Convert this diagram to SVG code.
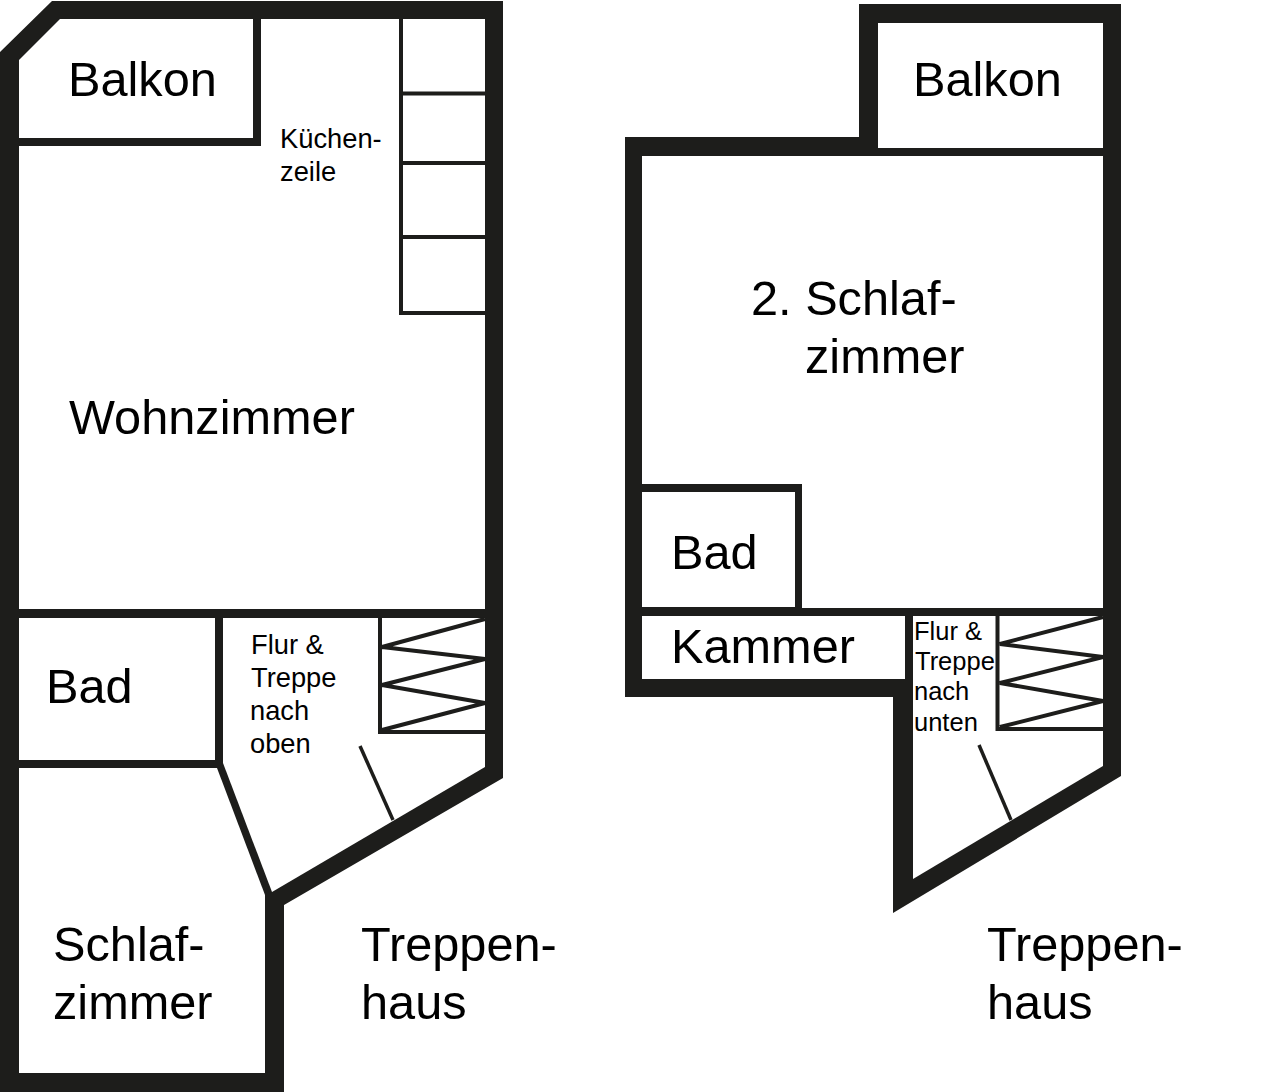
<svg xmlns="http://www.w3.org/2000/svg" width="1280" height="1092" viewBox="0 0 1280 1092">
<style>
.wall{fill:#1d1d1b}
.room{fill:#fff}
.thin{fill:none;stroke:#1d1d1b;stroke-width:4;stroke-linejoin:miter}
.door{fill:none;stroke:#1d1d1b;stroke-width:3.5}
text{font-family:"Liberation Sans",Arial,sans-serif;fill:#000}
.l{font-size:48.700px}
.s{font-size:27.300px}
.t{font-size:25.500px}
</style>
<rect width="1280" height="1092" fill="#fff"/>
<g id="plan-left">
<polygon id="walls-left" class="wall" points="52,1 503,1 503,778 284,905 284,1092 0,1092 0,52"/>
<polygon id="balkon-left" class="room" points="60,19 253,19 253,138 19,138 19,60"/>
<polygon id="wohnzimmer" class="room" points="261,19 485,19 485,609 19,609 19,146 261,146"/>
<rect id="bad-left" class="room" x="19" y="618" width="196" height="142"/>
<polygon id="flur-left" class="room" points="223,618 485,618 485,767 272,892 223,763"/>
<polygon id="schlafzimmer" class="room" points="19,768 217,768 265,895 265,1073 19,1073"/>
<path id="kueche" class="thin" d="M401,19V313H485M401,93.500H485M401,163H485M401,237H485"/>
<path id="treppe-left" class="thin" d="M380,618V732H485M485,619L382,647L485,659L382,685L485,703L382,730"/>
<line id="tuer-left" class="door" x1="360" y1="746" x2="393" y2="820"/>
</g>
<g id="plan-right">
<polygon id="walls-right" class="wall" points="859,4 1121,4 1121,776 893,913 893,697 625,697 625,137 859,137"/>
<rect id="balkon-right" class="room" x="878" y="23" width="225" height="125"/>
<polygon id="schlafzimmer-2" class="room" points="642,156 1103,156 1103,608 802,608 802,484 642,484"/>
<rect id="bad-right" class="room" x="642" y="492" width="153" height="115"/>
<rect id="kammer" class="room" x="642" y="616" width="263" height="63"/>
<polygon id="flur-right" class="room" points="913,616 1103,616 1103,766 913,879"/>
<path id="treppe-right" class="thin" d="M997.500,616V729H1103M1103,617L1000,644L1103,657L1000,683L1103,701L1000,727"/>
<line id="tuer-right" class="door" x1="979" y1="745" x2="1011" y2="820"/>
</g>
<g id="labels">
<text class="l" x="68" y="96">Balkon</text>
<text class="s" x="280" y="148">Küchen-</text>
<text class="s" x="280" y="181">zeile</text>
<text class="l" x="69" y="434">Wohnzimmer</text>
<text class="l" x="46" y="703">Bad</text>
<text class="s" x="251" y="654">Flur &amp;</text>
<text class="s" x="251" y="687">Treppe</text>
<text class="s" x="250" y="720">nach</text>
<text class="s" x="250" y="753">oben</text>
<text class="l" x="53" y="961">Schlaf-</text>
<text class="l" x="53" y="1019">zimmer</text>
<text class="l" x="361" y="961">Treppen-</text>
<text class="l" x="361" y="1019">haus</text>
<text class="l" x="913" y="96">Balkon</text>
<text class="l" x="751" y="315">2. Schlaf-</text>
<text class="l" x="805" y="373">zimmer</text>
<text class="l" x="671" y="569">Bad</text>
<text class="l" x="671" y="663">Kammer</text>
<text class="t" x="914" y="640">Flur &amp;</text>
<text class="t" x="915" y="670">Treppe</text>
<text class="t" x="914" y="700">nach</text>
<text class="t" x="914" y="731">unten</text>
<text class="l" x="987" y="961">Treppen-</text>
<text class="l" x="987" y="1019">haus</text>
</g>
</svg>
